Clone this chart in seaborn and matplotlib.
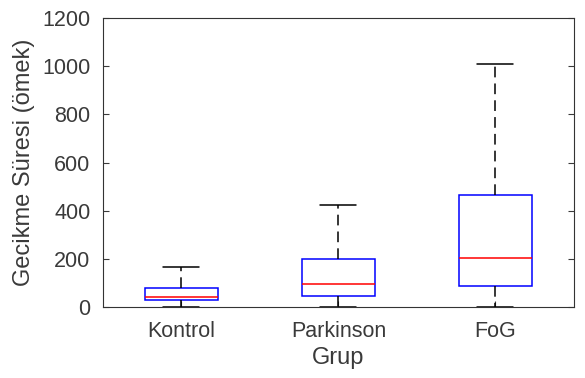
import matplotlib
matplotlib.use('Agg')
import matplotlib.pyplot as plt
import numpy as np
import pandas as pd
import seaborn as sns

# five-number summaries: min, q1, median, q3, max
groups = ['Kontrol', 'Parkinson', 'FoG']
kontrol = [0, 29, 41, 79, 166]
parkinson = [0, 46, 95, 199, 425]
fog = [0, 87, 203, 465, 1010]

df = pd.DataFrame({
    'Grup': np.repeat(groups, 5),
    'delay': kontrol + parkinson + fog,
})

sns.set_style('white')
plt.rcParams['font.family'] = ['Liberation Sans', 'DejaVu Sans']

fig, ax = plt.subplots(figsize=(5.85, 3.78), dpi=100)
sns.boxplot(data=df, x='Grup', y='delay', ax=ax, whis=np.inf, showfliers=False,
            width=0.46, color='white', linewidth=1.1,
            boxprops=dict(edgecolor='blue', facecolor='none'),
            medianprops=dict(color='red'),
            whiskerprops=dict(color='black', linestyle=(0, (7, 4))),
            capprops=dict(color='black'))

ax.set_xlim(0.5 - 1, 3.5 - 1)
ax.set_ylim(0, 1200)
ax.set_yticks(range(0, 1201, 200))
ax.set_xlabel('Grup', fontsize=17, color='#3a3a3a', va='center')
ax.set_ylabel('Gecikme Süresi (ömek)', fontsize=17, color='#3a3a3a', va='center')
ax.yaxis.set_label_coords(-0.168, 0.5)
ax.xaxis.set_label_coords(0.5, -0.178)
ax.tick_params(labelsize=15.5, colors='#3a3a3a', direction='in', length=4,
               left=True, right=True, bottom=True, top=False)
ax.tick_params(axis='y', pad=9)
ax.tick_params(axis='x', pad=10)
for s in ax.spines.values():
    s.set_color('#333333')
    s.set_linewidth(0.8)

fig.subplots_adjust(left=0.176, right=0.981, top=0.952, bottom=0.188)
fig.savefig('out.png', dpi=100)
